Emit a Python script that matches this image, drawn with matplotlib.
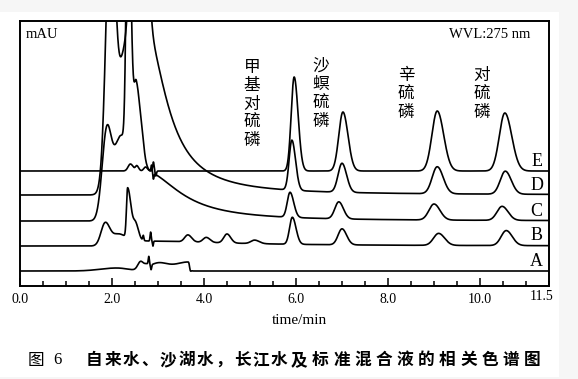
import matplotlib
matplotlib.use("Agg")
import matplotlib.pyplot as plt
from matplotlib.patches import Rectangle
from matplotlib.ticker import MultipleLocator
import numpy as np

SERIF = "Liberation Serif"
CJK = ["Noto Sans CJK SC", "DejaVu Sans"]

# traces, bottom to top, with their baseline offsets
trace_names = ["A", "B", "C", "D", "E"]
baselines = [15, 40, 65, 91, 115]

# compound labels over the peaks
compounds = ["甲基对硫磷", "沙螟硫磷", "辛硫磷", "对硫磷"]
label_times = [5.04, 6.54, 8.39, 10.04]
label_levels = [182, 192, 192, 192]

# peaks: (time, height, left sigma, right sigma)
peaks_A = [(2.1, 3, 0.35, 0.25), (2.62, 8, 0.06, 0.06), (2.75, 3, 0.05, 0.05),
           (2.80, 8, 0.012, 0.012), (2.85, -5, 0.012, 0.012), (3.0, 7.5, 0.2, 0.2),
           (3.66, 9, 0.3, 0.03), (3.70, -3, 0.015, 0.015)]
peaks_B = [(1.85, 22, 0.09, 0.10), (2.15, 12, 0.15, 0.20), (2.34, 50, 0.025, 0.075),
           (2.52, 14, 0.05, 0.06), (2.68, 5, 0.012, 0.012), (2.84, 9, 0.012, 0.012),
           (2.89, -5, 0.01, 0.01), (3.65, 7, 0.07, 0.08), (4.05, 5, 0.07, 0.08),
           (4.5, 9, 0.07, 0.08), (5.1, 3.5, 0.08, 0.1), (5.92, 27, 0.06, 0.08),
           (7.0, 16, 0.085, 0.1), (9.1, 12, 0.11, 0.13), (10.57, 15, 0.11, 0.13)]
peaks_C = [(1.88, 80, 0.1, 0.1), (2.2, 85, 0.17, 0.2), (2.35, 300, 0.04, 0.06),
           (2.53, 110, 0.06, 0.09), (2.86, 7, 0.012, 0.012), (2.9, -6, 0.012, 0.012),
           (5.87, 25, 0.06, 0.08), (6.93, 17, 0.085, 0.1), (9.0, 16, 0.11, 0.13),
           (10.48, 14, 0.11, 0.13)]
peaks_D = [(1.97, 260, 0.1, 0.09), (2.30, 145, 0.2, 0.2), (2.58, 900, 0.1, 0.1),
           (5.91, 50, 0.06, 0.08), (7.0, 29, 0.085, 0.1), (9.07, 27, 0.11, 0.13),
           (10.55, 23, 0.11, 0.13)]
peaks_E = [(2.40, 7, 0.05, 0.06), (2.54, 5, 0.03, 0.04), (2.73, 4, 0.04, 0.04),
           (2.90, 9, 0.015, 0.015), (2.95, -5, 0.015, 0.015), (5.96, 94, 0.065, 0.085),
           (7.02, 59, 0.09, 0.11), (9.07, 60, 0.115, 0.14), (10.54, 58, 0.12, 0.15)]

# slow matrix tails: (start time, height, half width)
tails_A = []
tails_B = [(2.5, 5, 2.5)]
tails_C = [(2.7, 50, 0.9)]
tails_D = [(2.7, 170, 0.55)]
tails_E = []

caption_head = ["图", "6"]
caption_body = "自来水、沙湖水，长江水及标准混合液的相关色谱图"


def trace(t, base, peaks, tails):
    y = np.full_like(t, float(base))
    for t0, h, sl, sr in peaks:
        s = np.where(t < t0, sl, sr)
        y += h * np.exp(-0.5 * ((t - t0) / s) ** 2)
    for t0, h, w in tails:
        right = h / (1 + ((t - t0) / w) ** 2)
        left = h * np.exp(-0.5 * ((t - t0) / 0.08) ** 2)
        y += np.where(t < t0, left, right)
    return y


def main():
    fig = plt.figure(figsize=(5.78, 3.79), dpi=100, facecolor="#f6f6f6")
    W, H = 578.0, 379.0
    fig.patches.append(Rectangle((0, 2 / H), 559 / W, 365 / H, transform=fig.transFigure,
                                 facecolor="white", edgecolor="none", zorder=-1))

    ax = fig.add_axes([20 / W, 1 - 286 / H, 529 / W, 265 / H])
    ax.set_facecolor("white")
    xmax = 11.5
    ax.set_xlim(0, xmax)
    ax.set_ylim(0, 265)

    t = np.linspace(0, xmax, 8000)
    all_peaks = [peaks_A, peaks_B, peaks_C, peaks_D, peaks_E]
    all_tails = [tails_A, tails_B, tails_C, tails_D, tails_E]
    for name, base, pk, tl in zip(trace_names, baselines, all_peaks, all_tails):
        ax.plot(t, trace(t, base, pk, tl), color="black", lw=1.2)
        ax.text(11.23, base + 10, name, fontsize=13, family=SERIF, ha="center", va="center")

    for name, tx, lv in zip(compounds, label_times, label_levels):
        ax.text(tx, lv, "\n".join(name), fontsize=12, family=CJK, ha="center", va="center",
                linespacing=1.1)

    ax.text(0.12, 251, "mAU", fontsize=10.5, family=SERIF, ha="left", va="center")
    ax.text(11.1, 251, "WVL:275 nm", fontsize=10.5, family=SERIF, ha="right", va="center")

    for sp in ax.spines.values():
        sp.set_linewidth(1.4)
    ax.set_yticks([])
    ax.set_xticks([0, 2, 4, 6, 8, 10])
    ax.set_xticklabels(["0.0", "2.0", "4.0", "6.0", "8.0", "10.0"], family=SERIF, fontsize=10)
    ax.xaxis.set_minor_locator(MultipleLocator(0.5))
    ax.tick_params(axis="x", which="major", direction="in", length=6, width=1.1, pad=5)
    ax.tick_params(axis="x", which="minor", direction="in", length=3.5, width=1.1)
    ax.text(11.33, -4, "11.5", fontsize=10, family=SERIF, ha="center", va="top",
            transform=ax.transData, clip_on=False)

    fig.text(299 / W, 1 - 320 / H, "time/min", fontsize=11, family=SERIF, ha="center", va="center")

    # caption, one glyph at a time to match the wide letter spacing
    yc = 1 - 360 / H
    fig.text(36 / W, yc, caption_head[0], fontsize=12, family=CJK, ha="center", va="center")
    fig.text(57.5 / W, yc, caption_head[1], fontsize=12, family=SERIF, ha="center", va="center")
    for i, ch in enumerate(caption_body):
        x = 94 + 18.5 * i if i < 11 else 299 + 21.2 * (i - 11)
        fig.text(x / W, yc, ch, fontsize=12, family=CJK, weight="bold",
                 ha="center", va="center")

    fig.savefig("out.png", dpi=100, facecolor=fig.get_facecolor())


main()
